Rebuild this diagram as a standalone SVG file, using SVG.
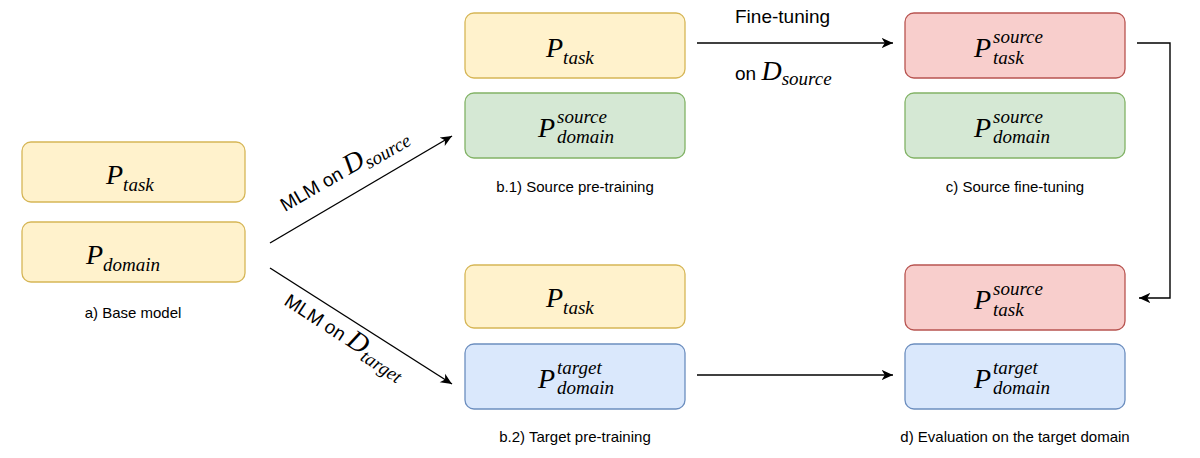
<svg xmlns="http://www.w3.org/2000/svg" width="1200" height="458" viewBox="0 0 1200 458">
<style>
.y{fill:#fff2cc;stroke:#d6b656;stroke-width:1.3}
.g{fill:#d5e8d4;stroke:#82b366;stroke-width:1.3}
.r{fill:#f8cecc;stroke:#b85450;stroke-width:1.3}
.b{fill:#dae8fc;stroke:#6c8ebf;stroke-width:1.3}
.m{font-family:"Liberation Serif",serif;font-style:italic;font-size:28px;fill:#000}
.s{font-size:19px}
.l{font-family:"Liberation Sans",Arial,sans-serif;font-size:15px;fill:#000;text-anchor:middle}
.t{font-family:"Liberation Sans",Arial,sans-serif;font-size:19px;fill:#000}
.c{fill:none;stroke:#000;stroke-width:1.4}
</style>
<defs><marker id="a" viewBox="0 0 10 10" refX="9" refY="5" markerWidth="9" markerHeight="9" orient="auto"><path d="M0,1 L9,5 L0,9 L2.5,5 Z" fill="#000"/></marker></defs>
<g id="base">
<rect class="y" x="22" y="142" width="223" height="60" rx="9"/>
<text class="m" x="106" y="184">P<tspan class="s" dy="7">task</tspan></text>
<rect class="y" x="22" y="222" width="223" height="60" rx="9"/>
<text class="m" x="86" y="264">P<tspan class="s" dy="7">domain</tspan></text>
<text class="l" x="133" y="318">a) Base model</text>
</g>
<g id="b1">
<rect class="y" x="465" y="13" width="220" height="65" rx="9"/>
<text class="m" x="546" y="57">P<tspan class="s" dy="7">task</tspan></text>
<rect class="g" x="465" y="93" width="220" height="65" rx="9"/>
<text class="m" x="538" y="137">P</text><text class="m s" x="557" y="123">source</text><text class="m s" x="557" y="143">domain</text>
<text class="l" x="575" y="192">b.1) Source pre-training</text>
</g>
<g id="c">
<rect class="r" x="905" y="13" width="220" height="65" rx="9"/>
<text class="m" x="974" y="57">P</text><text class="m s" x="993" y="43">source</text><text class="m s" x="993" y="64">task</text>
<rect class="g" x="905" y="93" width="220" height="65" rx="9"/>
<text class="m" x="974" y="137">P</text><text class="m s" x="993" y="123">source</text><text class="m s" x="993" y="143">domain</text>
<text class="l" x="1015" y="192">c) Source fine-tuning</text>
</g>
<g id="b2">
<rect class="y" x="465" y="265" width="220" height="63" rx="9"/>
<text class="m" x="546" y="307">P<tspan class="s" dy="7">task</tspan></text>
<rect class="b" x="465" y="344" width="220" height="65" rx="9"/>
<text class="m" x="538" y="388">P</text><text class="m s" x="557" y="374">target</text><text class="m s" x="557" y="394">domain</text>
<text class="l" x="575" y="442">b.2) Target pre-training</text>
</g>
<g id="d">
<rect class="r" x="905" y="265" width="220" height="65" rx="9"/>
<text class="m" x="974" y="309">P</text><text class="m s" x="993" y="295">source</text><text class="m s" x="993" y="316">task</text>
<rect class="b" x="905" y="344" width="220" height="65" rx="9"/>
<text class="m" x="974" y="388">P</text><text class="m s" x="993" y="374">target</text><text class="m s" x="993" y="394">domain</text>
<text class="l" x="1015" y="442">d) Evaluation on the target domain</text>
</g>
<g id="connectors">
<path class="c" d="M270,243 L452,136" marker-end="url(#a)"/>
<path class="c" d="M270,268 L452,384" marker-end="url(#a)"/>
<path class="c" d="M697,43 L893,43" marker-end="url(#a)"/>
<path class="c" d="M1137,43 L1170,43 L1170,298 L1139,298" marker-end="url(#a)"/>
<path class="c" d="M697,375 L893,375" marker-end="url(#a)"/>
<text class="t" x="735" y="23">Fine-tuning</text>
<text class="t" x="735" y="80">on <tspan class="m" font-size="26">D</tspan><tspan class="m s" font-size="17" dy="5">source</tspan></text>
<text class="t" transform="translate(285,212) rotate(-30)">MLM on <tspan class="m" font-size="26">D</tspan><tspan class="m s" font-size="17" dy="5">source</tspan></text>
<text class="t" transform="translate(283,304) rotate(33)">MLM on <tspan class="m" font-size="26">D</tspan><tspan class="m s" font-size="17" dy="5">target</tspan></text>
</g>
</svg>
